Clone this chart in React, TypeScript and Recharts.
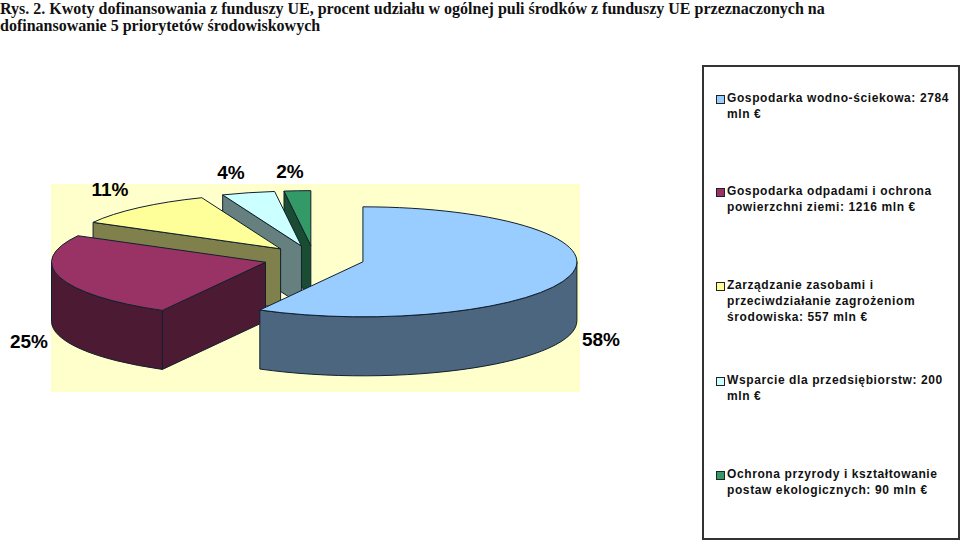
import { Pie, PieChart } from "recharts";

const sliceNames = [
	"Gospodarka wodno-ściekowa",
	"Gospodarka odpadami i ochrona powierzchni ziemi",
	"Zarządzanie zasobami i przeciwdziałanie zagrożeniom środowiska",
	"Wsparcie dla przedsiębiorstw",
	"Ochrona przyrody i kształtowanie postaw ekologicznych",
];
const slicePercents = [58, 25, 11, 4, 2];
const sliceColors = ["#99CCFF", "#993366", "#FFFF99", "#CCFFFF", "#339966"];
const wallColors = ["#4C6680", "#4C1A33", "#80804C", "#668080", "#1A4C33"];

const legendLines = [
	["Gospodarka wodno-ściekowa: 2784", "mln €"],
	["Gospodarka odpadami i ochrona", "powierzchni ziemi: 1216 mln €"],
	["Zarządzanie zasobami i", "przeciwdziałanie zagrożeniom", "środowiska: 557 mln €"],
	["Wsparcie dla przedsiębiorstw: 200", "mln €"],
	["Ochrona przyrody i kształtowanie", "postaw ekologicznych: 90 mln €"],
];
const legendTops = [91, 184, 278, 373, 467];

const titleLines = [
	"Rys. 2. Kwoty dofinansowania z funduszy UE, procent udziału w ogólnej puli środków z funduszy UE przeznaczonych na",
	"dofinansowanie 5 priorytetów środowiskowych",
];

// painted back to front, so the pie goes round from the smallest slice
const pieData = slicePercents
	.map((value, i) => ({
		name: sliceNames[i],
		value,
		fill: sliceColors[i],
		wall: wallColors[i],
	}))
	.reverse();

const squash = 0.257;
const depth = 59;
const explode = 0.236;
const labelPlaces = [
	[290, 178],
	[231, 179],
	[110, 196],
	[29, 348],
	[601, 346],
];

const rad = (deg: number) => (deg * Math.PI) / 180;

const Slice3D = (props: any) => {
	const { cx, cy, outerRadius: r, startAngle, endAngle, midAngle, fill, wall } = props;
	const ax = cx + r * explode * Math.cos(rad(midAngle));
	const ay = cy - r * explode * squash * Math.sin(rad(midAngle));
	const px = (a: number) => ax + r * Math.cos(rad(a));
	const py = (a: number) => ay - r * squash * Math.sin(rad(a));
	const arc = (from: number, to: number, dy: number) => {
		const large = Math.abs(to - from) > 180 ? 1 : 0;
		const sweep = to > from ? 0 : 1;
		return `A ${r} ${r * squash} 0 ${large} ${sweep} ${px(to)} ${py(to) + dy}`;
	};

	const line = { stroke: "#10202c", strokeWidth: 1, strokeLinejoin: "round" as const };
	const walls = [];
	if (Math.cos(rad(startAngle)) > 0.001) {
		const a = startAngle;
		walls.push(`M ${ax} ${ay} L ${px(a)} ${py(a)} L ${px(a)} ${py(a) + depth} L ${ax} ${ay + depth} Z`);
	}
	if (Math.cos(rad(endAngle)) < -0.001) {
		const a = endAngle;
		walls.push(`M ${ax} ${ay} L ${px(a)} ${py(a)} L ${px(a)} ${py(a) + depth} L ${ax} ${ay + depth} Z`);
	}
	const from = Math.max(startAngle, 180);
	const to = Math.min(endAngle, 360);
	if (to > from) {
		walls.push(
			`M ${px(from)} ${py(from)} ${arc(from, to, 0)} L ${px(to)} ${py(to) + depth} ${arc(to, from, depth)} Z`,
		);
	}

	return (
		<g>
			{walls.map((d) => (
				<path key={d} d={d} fill={wall} {...line} />
			))}
			<path
				d={`M ${ax} ${ay} L ${px(startAngle)} ${py(startAngle)} ${arc(startAngle, endAngle, 0)} Z`}
				fill={fill}
				{...line}
			/>
		</g>
	);
};

const PercentLabel = (props: any) => {
	const [x, y] = labelPlaces[props.index];
	return (
		<text x={x} y={y} textAnchor="middle" fontFamily="'Liberation Sans'" fontWeight="bold" fontSize={19} fill="#000">
			{pieData[props.index].value}%
		</text>
	);
};

export default function App() {
	return (
		<div style={{ position: "absolute", left: 0, top: 0, width: 960, height: 540, background: "#fff", overflow: "hidden" }}>
			{titleLines.map((t, i) => (
				<div
					key={t}
					style={{
						position: "absolute",
						left: 0,
						top: i * 17,
						lineHeight: "18px",
						whiteSpace: "nowrap",
						fontFamily: "'Liberation Serif'",
						fontWeight: "bold",
						fontSize: 16,
						color: "#111",
					}}
				>
					{t}
				</div>
			))}

			<div style={{ position: "absolute", left: 51, top: 184, width: 529, height: 208, background: "#FFFFCC" }} />

			<div style={{ position: "absolute", left: 0, top: 0 }}>
				<PieChart width={960} height={540} margin={{ top: 0, right: 0, bottom: 0, left: 0 }}>
					<Pie
						data={pieData}
						dataKey="value"
						nameKey="name"
						cx={314}
						cy={258.6}
						outerRadius={214}
						startAngle={90}
						endAngle={450}
						shape={Slice3D}
						label={PercentLabel}
						labelLine={false}
						isAnimationActive={false}
					/>
				</PieChart>
			</div>

			<div
				style={{
					position: "absolute",
					left: 702,
					top: 65,
					width: 254,
					height: 471,
					boxSizing: "content-box",
					border: "2px solid #333",
				}}
			/>
			{legendLines.map((lines, i) => (
				<div key={lines[0]}>
					<div
						style={{
							position: "absolute",
							left: 716,
							top: legendTops[i] + 4,
							width: 7,
							height: 7,
							background: sliceColors[i],
							border: "1px solid #222",
						}}
					/>
					{lines.map((t, j) => (
						<div
							key={t}
							style={{
								position: "absolute",
								left: 727,
								top: legendTops[i] + j * 16 - 1,
								lineHeight: "16px",
								whiteSpace: "nowrap",
								fontFamily: "'Liberation Sans'",
								fontWeight: "bold",
								fontSize: 12,
								letterSpacing: 0.6,
								color: "#111",
							}}
						>
							{t}
						</div>
					))}
				</div>
			))}
		</div>
	);
}
